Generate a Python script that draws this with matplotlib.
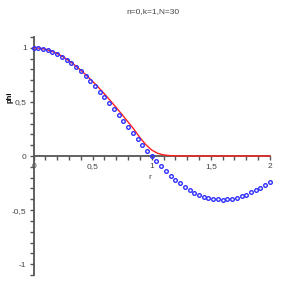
import matplotlib
matplotlib.use('Agg')
import matplotlib.pyplot as plt
from matplotlib.ticker import MultipleLocator, FuncFormatter

plt.rcParams['font.family'] = ['Liberation Sans', 'DejaVu Sans']

# red curve (approximation), r step 0.05
r_red = [0.0, 0.05, 0.1, 0.15, 0.2, 0.25, 0.3, 0.35, 0.4, 0.45, 0.5,
         0.55, 0.6, 0.65, 0.7, 0.75, 0.8, 0.85, 0.9, 0.95, 1.0,
         1.05, 1.1, 1.15, 1.2, 1.25, 1.3, 1.4, 1.5, 1.6, 1.7, 1.8, 1.9, 2.0]
phi_red = [1.0, 0.996, 0.986, 0.970, 0.946, 0.916, 0.880, 0.838, 0.792,
           0.742, 0.689, 0.633, 0.573, 0.511, 0.447, 0.381, 0.314, 0.246,
           0.170, 0.105, 0.055, 0.025, 0.010, 0.004, 0.0015, 0.0005, 0.0,
           0.0, 0.0, 0.0, 0.0, 0.0, 0.0, 0.0]

# blue points (exact solution), r step 0.04
r_pts = [0.0, 0.04, 0.08, 0.12, 0.16, 0.2, 0.24, 0.28, 0.32, 0.36, 0.4,
         0.44, 0.48, 0.52, 0.56, 0.6, 0.64, 0.68, 0.72, 0.76, 0.8,
         0.84, 0.88, 0.92, 0.96, 1.0, 1.04, 1.08, 1.12, 1.16, 1.2,
         1.24, 1.28, 1.32, 1.36, 1.4, 1.44, 1.48, 1.52, 1.56, 1.6,
         1.64, 1.68, 1.72, 1.76, 1.8, 1.84, 1.88, 1.92, 1.96, 2.0]
phi_pts = [1.0, 0.9977, 0.9908, 0.9793, 0.9634, 0.9431, 0.9183, 0.8898,
           0.8571, 0.821, 0.7817, 0.739, 0.6936, 0.6457, 0.5951, 0.5432,
           0.4898, 0.4352, 0.3797, 0.3238, 0.2679, 0.2122, 0.1572, 0.1034,
           0.0508, 0.0, -0.049, -0.0956, -0.1396, -0.1809, -0.219, -0.2539,
           -0.2855, -0.3134, -0.3376, -0.3579, -0.3745, -0.3874, -0.3962,
           -0.4012, -0.4025, -0.4002, -0.3941, -0.3845, -0.3718, -0.3556,
           -0.3366, -0.315, -0.2912, -0.2654, -0.2377]

fig = plt.figure(figsize=(3.05, 3.05), dpi=100)
ax = fig.add_axes([0.110, 0.098, 0.775, 0.781])

ax.plot(r_red, phi_red, color='#ff2020', lw=1.0, zorder=3, clip_on=False)
ax.plot(r_pts, phi_pts, 'o', ms=2.6, mfc='none', mec='#3030ff', mew=1.0,
        zorder=4, clip_on=False)

ax.set_xlim(0, 2)
ax.set_ylim(-1.1, 1.1)

axcol = '#555555'
for side in ['top', 'right']:
    ax.spines[side].set_visible(False)
ax.spines['left'].set_position(('data', 0))
ax.spines['bottom'].set_position(('data', 0))
for side in ['left', 'bottom']:
    ax.spines[side].set_color(axcol)
    ax.spines[side].set_linewidth(1.3)

comma = FuncFormatter(lambda v, p: ('%g' % v).replace('.', ','))
ax.xaxis.set_major_locator(MultipleLocator(0.5))
ax.xaxis.set_minor_locator(MultipleLocator(0.1))
ax.yaxis.set_major_locator(MultipleLocator(0.5))
ax.yaxis.set_minor_locator(MultipleLocator(0.1))
ax.xaxis.set_major_formatter(comma)
ax.yaxis.set_major_formatter(comma)
ax.tick_params(which='both', length=3, width=1.0, color=axcol,
               labelsize=6, labelcolor='#444444', pad=2)

ax.text(0.985, -0.2, 'r', fontsize=6, color='#444444', ha='center', va='center')
ax.text(-0.2, 0.54, 'phi', fontsize=5.5, fontweight='bold', rotation=90,
        ha='center', va='center')
fig.text(0.5, 0.961, 'n=0,k=1,N=30', fontsize=6, color='#444444',
         ha='center', va='center')

fig.savefig('out.png', dpi=100)
